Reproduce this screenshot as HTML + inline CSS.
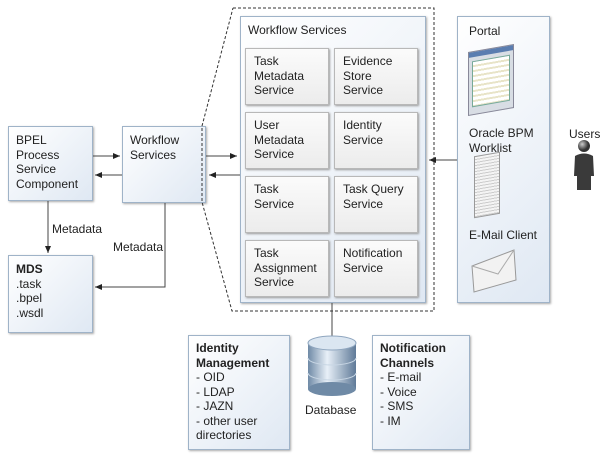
<!DOCTYPE html>
<html><head><style>
body{margin:0;width:614px;height:459px;background:#fff;position:relative;font-family:"Liberation Sans",sans-serif;font-size:12px;color:#222;overflow:hidden}
.b{position:absolute;box-sizing:border-box;border:1px solid #9fb3c8;background:linear-gradient(135deg,#ffffff 0%,#dfe8f3 100%);box-shadow:1px 1px 2px #aaa;padding:4px 7px;line-height:14.5px}
.i{position:absolute;box-sizing:border-box;border:1px solid #b8b8b8;background:linear-gradient(#fbfbfb,#ececec);box-shadow:1px 1px 2px #999;padding:5px 8px;line-height:14.5px}
.t{position:absolute;line-height:14.5px;white-space:nowrap}
svg{position:absolute;left:0;top:0}
</style></head><body>
<div class="b" style="left:8px;top:126px;width:85px;height:75px;padding-top:6px">BPEL<br>Process<br>Service<br>Component</div>
<div class="b" style="left:122px;top:126px;width:84px;height:77px;padding-top:6px">Workflow<br>Services</div>
<div class="b" style="left:8px;top:255px;width:85px;height:78px;padding-top:6px"><b>MDS</b><br>.task<br>.bpel<br>.wsdl</div>
<div class="b" style="left:240px;top:16px;width:186px;height:287px;padding-top:6px">Workflow Services</div>
<div class="i" style="left:245px;top:48px;width:84px;height:57px">Task<br>Metadata<br>Service</div>
<div class="i" style="left:334px;top:48px;width:84px;height:57px">Evidence<br>Store<br>Service</div>
<div class="i" style="left:245px;top:112px;width:84px;height:57px">User<br>Metadata<br>Service</div>
<div class="i" style="left:334px;top:112px;width:84px;height:57px">Identity<br>Service</div>
<div class="i" style="left:245px;top:176px;width:84px;height:57px">Task<br>Service</div>
<div class="i" style="left:334px;top:176px;width:84px;height:57px">Task Query<br>Service</div>
<div class="i" style="left:245px;top:240px;width:84px;height:57px">Task<br>Assignment<br>Service</div>
<div class="i" style="left:334px;top:240px;width:84px;height:57px">Notification<br>Service</div>
<div class="b" style="left:457px;top:16px;width:93px;height:287px;padding:0"></div>
<div class="t" style="left:469px;top:24px">Portal</div>
<div style="position:absolute;left:468px;top:48px;width:44px;height:62px;background:#d8dde4;border:1px solid #889;transform:skewY(-10deg)"><div style="height:5px;background:#5a7db0"></div><div style="margin:4px 3px;height:44px;background:repeating-linear-gradient(#fff 0 3px,#e8e4c8 3px 5px);border:1px solid #7a9"></div></div>
<div class="t" style="left:469px;top:126px">Oracle BPM<br>Worklist</div>
<div style="position:absolute;left:474px;top:154px;width:24px;height:60px;background:repeating-linear-gradient(#f4f4f4 0 2px,#ccc 2px 3px);border:1px solid #999;transform:skewY(-10deg)"></div>
<div class="t" style="left:469px;top:228px">E-Mail Client</div>
<svg style="left:470px;top:248px" width="50" height="46"><polygon points="2,18 44,2 46,32 4,44" fill="#f2f2f2" stroke="#999"/><polyline points="2,18 28,26 44,2" fill="none" stroke="#aaa"/></svg>
<div class="t" style="left:569px;top:127px">Users</div>
<svg width="614" height="459" style="position:absolute">
<defs><marker id="a" markerWidth="8" markerHeight="8" refX="7" refY="4" orient="auto" markerUnits="userSpaceOnUse"><path d="M0,1L7,4L0,7z" fill="#222"/></marker>
<linearGradient id="g" x1="0" x2="1"><stop offset="0" stop-color="#6f8aa6"/><stop offset=".4" stop-color="#e8f0f8"/><stop offset="1" stop-color="#5f7a98"/></linearGradient>
<radialGradient id="p" cx=".35" cy=".35"><stop offset="0" stop-color="#ccc"/><stop offset="1" stop-color="#333"/></radialGradient></defs>
<g stroke="#444" fill="none">
<line x1="93" y1="156" x2="120" y2="156" marker-end="url(#a)"/>
<line x1="122" y1="175" x2="95" y2="175" marker-end="url(#a)"/>
<line x1="206" y1="156" x2="237" y2="156" marker-end="url(#a)"/>
<line x1="240" y1="175" x2="209" y2="175" marker-end="url(#a)"/>
<line x1="48" y1="201" x2="48" y2="253" marker-end="url(#a)"/>
<polyline points="165,203 165,287 95,287" marker-end="url(#a)"/>
<line x1="457" y1="160" x2="429" y2="160" marker-end="url(#a)"/>
<line x1="332" y1="303" x2="332" y2="340"/>
<polyline stroke="#333" stroke-dasharray="3,2" points="233,8 434,8 434,311 232,311 202,202 202,126 233,8"/>
</g>
<g>
<rect x="308" y="343" width="48" height="46" fill="url(#g)"/>
<ellipse cx="332" cy="389" rx="24" ry="7" fill="#6f8aa6"/>
<path d="M308,358 a24,7 0 0 0 48,0 M308,373 a24,7 0 0 0 48,0" stroke="#c8d6e4" fill="none"/>
<ellipse cx="332" cy="343" rx="24" ry="7" fill="#dbe6f1" stroke="#8fa6bf"/>
</g>
<circle cx="584" cy="146" r="6" fill="url(#p)"/>
<path d="M575,156 q9,-5 18,0 l1,20 -3,0 0,14 -14,0 0,-14 -3,0z" fill="#3a3a3a"/>
</svg>
<div class="t" style="left:52px;top:222px">Metadata</div>
<div class="t" style="left:113px;top:240px">Metadata</div>
<div class="t" style="left:305px;top:403px">Database</div>
<div class="b" style="left:188px;top:335px;width:102px;height:115px;padding-top:5px"><b>Identity<br>Management</b><br>- OID<br>- LDAP<br>- JAZN<br>- other user<br>directories</div>
<div class="b" style="left:372px;top:335px;width:98px;height:115px;padding-top:5px"><b>Notification<br>Channels</b><br>- E-mail<br>- Voice<br>- SMS<br>- IM</div>
</body></html>
